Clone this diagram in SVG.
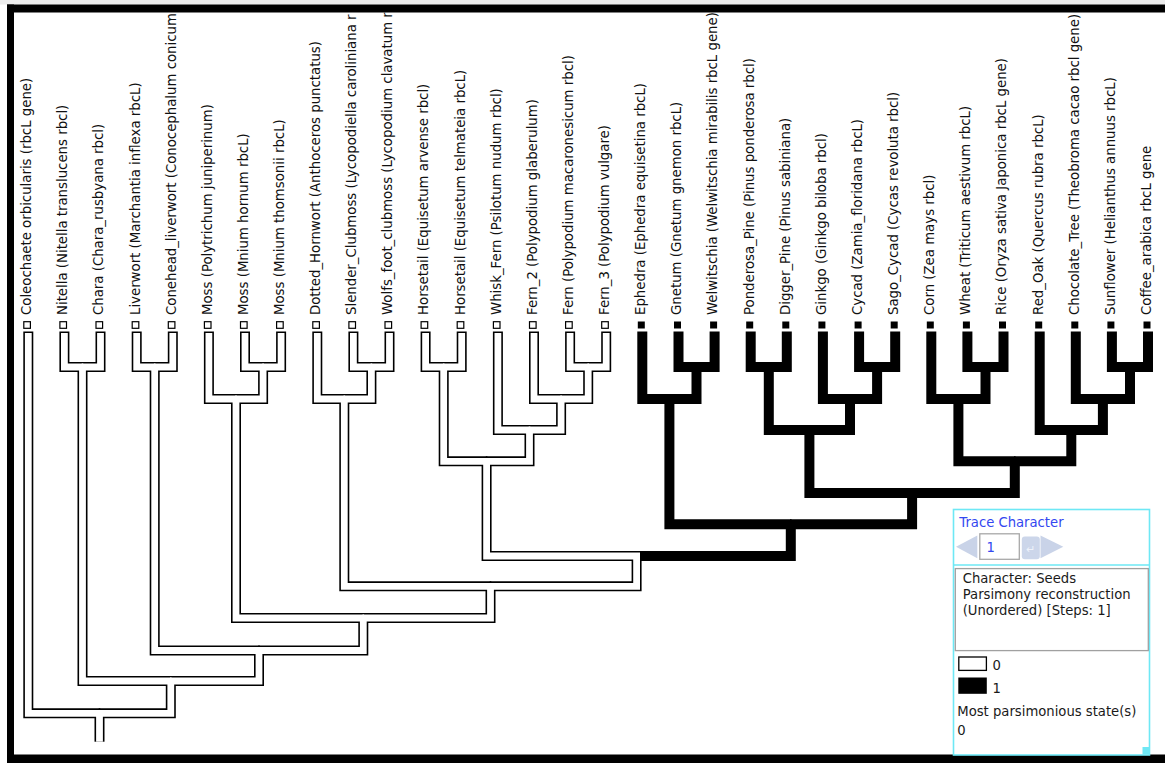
<svg xmlns="http://www.w3.org/2000/svg" width="1165" height="763" viewBox="0 0 1165 763">
<style>
.ob{fill:none;stroke:#000;stroke-width:10;stroke-linecap:butt;stroke-linejoin:miter}
.iw{fill:none;stroke:#fff;stroke-width:6.8;stroke-linecap:butt;stroke-linejoin:miter}
.lab{font-family:"DejaVu Sans","Liberation Sans",sans-serif;font-size:13.3px;fill:#111}
.b0{fill:#fff;stroke:#000;stroke-width:1.2}
.b1{fill:#000}
.pt{font-family:"DejaVu Sans","Liberation Sans",sans-serif;font-size:13.2px;fill:#1a1a1a}
.blue{fill:#3347f0}
</style>
<defs>
<clipPath id="clipTop"><rect x="0" y="12.5" width="1165" height="750"/></clipPath>
</defs>
<rect x="0" y="0" width="1165" height="763" fill="#fff"/>
<rect x="0" y="0" width="1165" height="4.5" fill="#ececec"/>

<g id="connectors">
<g id="outlines" class="ob">
<path d="M28.3,331.5V713.3H100.3"/>
<path d="M64.4,331.5V367H83.3"/>
<path d="M100.5,331.5V367H81.7"/>
<path d="M136.7,331.5V367H155.5"/>
<path d="M172.8,331.5V367H153.9"/>
<path d="M208.9,331.5V399H236.8"/>
<path d="M245,331.5V367H263.9"/>
<path d="M281.1,331.5V367H262.3"/>
<path d="M317.3,331.5V399H345.1"/>
<path d="M353.4,331.5V367H372.2"/>
<path d="M389.5,331.5V367H370.6"/>
<path d="M425.6,331.5V367H444.5"/>
<path d="M461.7,331.5V367H442.9"/>
<path d="M497.9,331.5V430H530.3"/>
<path d="M534,331.5V399H561.9"/>
<path d="M570.1,331.5V367H589"/>
<path d="M606.2,331.5V367H587.4"/>
<path d="M642.3,331.5V399H670.2"/>
<path d="M678.5,331.5V367H697.3"/>
<path d="M714.6,331.5V367H695.7"/>
<path d="M750.7,331.5V367H769.6"/>
<path d="M786.8,331.5V367H768"/>
<path d="M822.9,331.5V399H850.8"/>
<path d="M859.1,331.5V367H877.9"/>
<path d="M895.2,331.5V367H876.3"/>
<path d="M931.3,331.5V399H959.2"/>
<path d="M967.4,331.5V367H986.3"/>
<path d="M1003.5,331.5V367H984.7"/>
<path d="M1039.7,331.5V430H1072.1"/>
<path d="M1075.8,331.5V399H1103.7"/>
<path d="M1111.9,331.5V367H1130.8"/>
<path d="M1148,331.5V367H1129.2"/>
<path d="M82.5,367V681H171.6"/>
<path d="M154.7,367V650.5H259.8"/>
<path d="M263.1,367V399H235.2"/>
<path d="M236,399V618H364.1"/>
<path d="M371.4,367V399H343.5"/>
<path d="M344.3,399V586.3H491.3"/>
<path d="M443.7,367V461.3H487.4"/>
<path d="M588.2,367V399H560.3"/>
<path d="M561.1,399V430H528.7"/>
<path d="M529.5,430V461.3H485.8"/>
<path d="M486.6,461.3V556H637.4"/>
<path d="M636.6,556V586.3H489.7"/>
<path d="M490.5,586.3V618H362.5"/>
<path d="M363.3,618V650.5H258.2"/>
<path d="M259,650.5V681H170"/>
<path d="M170.8,681V713.3H98.7"/>
<path d="M99.5,713.3V741.7"/>
<path d="M696.5,367V399H668.6"/>
<path d="M669.4,399V524.2H791.6"/>
<path d="M768.8,367V430H810.2"/>
<path d="M877.1,367V399H849.2"/>
<path d="M850,399V430H808.6"/>
<path d="M809.4,430V493H912.9"/>
<path d="M985.5,367V399H957.6"/>
<path d="M958.4,399V461.3H1015.6"/>
<path d="M1130,367V399H1102.1"/>
<path d="M1102.9,399V430H1070.5"/>
<path d="M1071.3,430V461.3H1014"/>
<path d="M1014.8,461.3V493H911.3"/>
<path d="M912.1,493V524.2H790"/>
<path d="M790.8,524.2V556H635.8"/>
</g>
<g id="state0-fill" class="iw">
<path d="M28.3,333.1V713.3H100.3"/>
<path d="M64.4,333.1V367H83.3"/>
<path d="M100.5,333.1V367H81.7"/>
<path d="M136.7,333.1V367H155.5"/>
<path d="M172.8,333.1V367H153.9"/>
<path d="M208.9,333.1V399H236.8"/>
<path d="M245,333.1V367H263.9"/>
<path d="M281.1,333.1V367H262.3"/>
<path d="M317.3,333.1V399H345.1"/>
<path d="M353.4,333.1V367H372.2"/>
<path d="M389.5,333.1V367H370.6"/>
<path d="M425.6,333.1V367H444.5"/>
<path d="M461.7,333.1V367H442.9"/>
<path d="M497.9,333.1V430H530.3"/>
<path d="M534,333.1V399H561.9"/>
<path d="M570.1,333.1V367H589"/>
<path d="M606.2,333.1V367H587.4"/>
<path d="M82.5,367V681H171.6"/>
<path d="M154.7,367V650.5H259.8"/>
<path d="M263.1,367V399H235.2"/>
<path d="M236,399V618H364.1"/>
<path d="M371.4,367V399H343.5"/>
<path d="M344.3,399V586.3H491.3"/>
<path d="M443.7,367V461.3H487.4"/>
<path d="M588.2,367V399H560.3"/>
<path d="M561.1,399V430H528.7"/>
<path d="M529.5,430V461.3H485.8"/>
<path d="M486.6,461.3V556H640"/>
<path d="M636.6,556V586.3H489.7"/>
<path d="M490.5,586.3V618H362.5"/>
<path d="M363.3,618V650.5H258.2"/>
<path d="M259,650.5V681H170"/>
<path d="M170.8,681V713.3H98.7"/>
<path d="M99.5,713.3V741.7"/>
</g>
</g>

<g id="leaves" clip-path="url(#clipTop)">
<g id="leaf-coleochaete"><rect class="b0" x="23.8" y="321.7" width="6.6" height="6.6"/><text class="lab" transform="translate(31.1,315) rotate(-90)">Coleochaete orbicularis (rbcL gene)</text></g>
<g id="leaf-nitella"><rect class="b0" x="59.9" y="321.7" width="6.6" height="6.6"/><text class="lab" transform="translate(67.2,315) rotate(-90)">Nitella (Nitella translucens rbcl)</text></g>
<g id="leaf-chara"><rect class="b0" x="96" y="321.7" width="6.6" height="6.6"/><text class="lab" transform="translate(103.3,315) rotate(-90)">Chara (Chara_rusbyana rbcl)</text></g>
<g id="leaf-liverwort"><rect class="b0" x="132.2" y="321.7" width="6.6" height="6.6"/><text class="lab" transform="translate(139.5,315) rotate(-90)">Liverwort (Marchantia inflexa rbcL)</text></g>
<g id="leaf-conehead"><rect class="b0" x="168.3" y="321.7" width="6.6" height="6.6"/><text class="lab" transform="translate(175.6,315) rotate(-90)">Conehead_liverwort (Conocephalum conicum</text></g>
<g id="leaf-moss1"><rect class="b0" x="204.4" y="321.7" width="6.6" height="6.6"/><text class="lab" transform="translate(211.7,315) rotate(-90)">Moss (Polytrichum juniperinum)</text></g>
<g id="leaf-moss2"><rect class="b0" x="240.5" y="321.7" width="6.6" height="6.6"/><text class="lab" transform="translate(247.8,315) rotate(-90)">Moss (Mnium hornum rbcL)</text></g>
<g id="leaf-moss3"><rect class="b0" x="276.6" y="321.7" width="6.6" height="6.6"/><text class="lab" transform="translate(283.9,315) rotate(-90)">Moss (Mnium thomsonii rbcL)</text></g>
<g id="leaf-hornwort"><rect class="b0" x="312.8" y="321.7" width="6.6" height="6.6"/><text class="lab" transform="translate(320.1,315) rotate(-90)">Dotted_Hornwort (Anthoceros punctatus)</text></g>
<g id="leaf-slender"><rect class="b0" x="348.9" y="321.7" width="6.6" height="6.6"/><text class="lab" transform="translate(356.2,315) rotate(-90)">Slender_Clubmoss (Lycopodiella caroliniana r</text></g>
<g id="leaf-wolfs"><rect class="b0" x="385" y="321.7" width="6.6" height="6.6"/><text class="lab" transform="translate(392.3,315) rotate(-90)">Wolfs_foot_clubmoss (Lycopodium clavatum r</text></g>
<g id="leaf-horsetail1"><rect class="b0" x="421.1" y="321.7" width="6.6" height="6.6"/><text class="lab" transform="translate(428.4,315) rotate(-90)">Horsetail (Equisetum arvense rbcl)</text></g>
<g id="leaf-horsetail2"><rect class="b0" x="457.2" y="321.7" width="6.6" height="6.6"/><text class="lab" transform="translate(464.5,315) rotate(-90)">Horsetail (Equisetum telmateia rbcL)</text></g>
<g id="leaf-whisk"><rect class="b0" x="493.4" y="321.7" width="6.6" height="6.6"/><text class="lab" transform="translate(500.7,315) rotate(-90)">Whisk_Fern (Psilotum nudum rbcl)</text></g>
<g id="leaf-fern2"><rect class="b0" x="529.5" y="321.7" width="6.6" height="6.6"/><text class="lab" transform="translate(536.8,315) rotate(-90)">Fern_2 (Polypodium glaberulum)</text></g>
<g id="leaf-fern"><rect class="b0" x="565.6" y="321.7" width="6.6" height="6.6"/><text class="lab" transform="translate(572.9,315) rotate(-90)">Fern (Polypodium macaronesicum rbcl)</text></g>
<g id="leaf-fern3"><rect class="b0" x="601.7" y="321.7" width="6.6" height="6.6"/><text class="lab" transform="translate(609,315) rotate(-90)">Fern_3 (Polypodium vulgare)</text></g>
<g id="leaf-ephedra"><rect class="b1" x="637.8" y="321.5" width="7" height="7"/><text class="lab" transform="translate(645.1,315) rotate(-90)">Ephedra (Ephedra equisetina rbcL)</text></g>
<g id="leaf-gnetum"><rect class="b1" x="674" y="321.5" width="7" height="7"/><text class="lab" transform="translate(681.3,315) rotate(-90)">Gnetum (Gnetum gnemon rbcL)</text></g>
<g id="leaf-welwitschia"><rect class="b1" x="710.1" y="321.5" width="7" height="7"/><text class="lab" transform="translate(717.4,315) rotate(-90)">Welwitschia (Welwitschia mirabilis rbcL gene)</text></g>
<g id="leaf-ponderosa"><rect class="b1" x="746.2" y="321.5" width="7" height="7"/><text class="lab" transform="translate(753.5,315) rotate(-90)">Ponderosa_Pine (Pinus ponderosa rbcl)</text></g>
<g id="leaf-digger"><rect class="b1" x="782.3" y="321.5" width="7" height="7"/><text class="lab" transform="translate(789.6,315) rotate(-90)">Digger_Pine (Pinus sabiniana)</text></g>
<g id="leaf-ginkgo"><rect class="b1" x="818.4" y="321.5" width="7" height="7"/><text class="lab" transform="translate(825.7,315) rotate(-90)">Ginkgo (Ginkgo biloba rbcl)</text></g>
<g id="leaf-cycad"><rect class="b1" x="854.6" y="321.5" width="7" height="7"/><text class="lab" transform="translate(861.9,315) rotate(-90)">Cycad (Zamia_floridana rbcL)</text></g>
<g id="leaf-sago"><rect class="b1" x="890.7" y="321.5" width="7" height="7"/><text class="lab" transform="translate(898,315) rotate(-90)">Sago_Cycad (Cycas revoluta rbcl)</text></g>
<g id="leaf-corn"><rect class="b1" x="926.8" y="321.5" width="7" height="7"/><text class="lab" transform="translate(934.1,315) rotate(-90)">Corn (Zea mays rbcl)</text></g>
<g id="leaf-wheat"><rect class="b1" x="962.9" y="321.5" width="7" height="7"/><text class="lab" transform="translate(970.2,315) rotate(-90)">Wheat (Triticum aestivum rbcL)</text></g>
<g id="leaf-rice"><rect class="b1" x="999" y="321.5" width="7" height="7"/><text class="lab" transform="translate(1006.3,315) rotate(-90)">Rice (Oryza sativa Japonica rbcL gene)</text></g>
<g id="leaf-redoak"><rect class="b1" x="1035.2" y="321.5" width="7" height="7"/><text class="lab" transform="translate(1042.5,315) rotate(-90)">Red_Oak (Quercus rubra rbcL)</text></g>
<g id="leaf-chocolate"><rect class="b1" x="1071.3" y="321.5" width="7" height="7"/><text class="lab" transform="translate(1078.6,315) rotate(-90)">Chocolate_Tree (Theobroma cacao rbcl gene)</text></g>
<g id="leaf-sunflower"><rect class="b1" x="1107.4" y="321.5" width="7" height="7"/><text class="lab" transform="translate(1114.7,315) rotate(-90)">Sunflower (Helianthus annuus rbcL)</text></g>
<g id="leaf-coffee"><rect class="b1" x="1143.5" y="321.5" width="7" height="7"/><text class="lab" transform="translate(1150.8,315) rotate(-90)">Coffee_arabica rbcL gene</text></g>
</g>

<g id="frame" fill="#000">
<rect x="7" y="4.5" width="1158" height="8"/>
<rect x="7" y="4.5" width="7" height="758.5"/>
<rect x="7" y="754.5" width="1158" height="8.5"/>
</g>

<g id="trace-panel">
<rect x="953.5" y="509.5" width="196" height="245.5" fill="#fff" stroke="#6ee8f5" stroke-width="1.6"/>
<text class="pt blue" x="959.3" y="527.3">Trace Character</text>
<polygon points="956,546.8 977.3,535.5 977.3,558.3" fill="#c9d3e8"/>
<rect x="979.8" y="533.8" width="39.5" height="25.5" fill="#fff" stroke="#a8a8a8" stroke-width="1.3"/>
<text class="pt blue" x="986.5" y="552.3">1</text>
<rect x="1021.8" y="536.5" width="18" height="22.8" rx="3" fill="#ccd6ea"/>
<text x="1030.8" y="553" font-family="DejaVu Sans, sans-serif" font-size="11px" fill="#eef2fa" text-anchor="middle">↵</text>
<polygon points="1040.5,535.5 1040.5,558.3 1063.3,546.8" fill="#c9d3e8"/>
<line x1="953.5" y1="565" x2="1149.5" y2="565" stroke="#6ee8f5" stroke-width="1.6"/>
<rect x="955.3" y="568.6" width="193" height="82" fill="#fff" stroke="#a0a0a0" stroke-width="1.3"/>
<text class="pt" x="962.7" y="582.8">Character: Seeds</text>
<text class="pt" x="962.7" y="599.3">Parsimony reconstruction</text>
<text class="pt" x="962.7" y="615.3">(Unordered) [Steps: 1]</text>
<rect x="958.8" y="657" width="27.6" height="13.4" fill="#fff" stroke="#000" stroke-width="1.3"/>
<text class="pt" x="992.5" y="669.5">0</text>
<rect x="958.3" y="677.5" width="28.5" height="16.3" fill="#000"/>
<text class="pt" x="992.5" y="692.8">1</text>
<text class="pt" x="957.3" y="716">Most parsimonious state(s)</text>
<text class="pt" x="957.3" y="735">0</text>
<rect x="1142.5" y="747" width="7" height="7.5" fill="#6ee8f5"/>
</g>
</svg>
